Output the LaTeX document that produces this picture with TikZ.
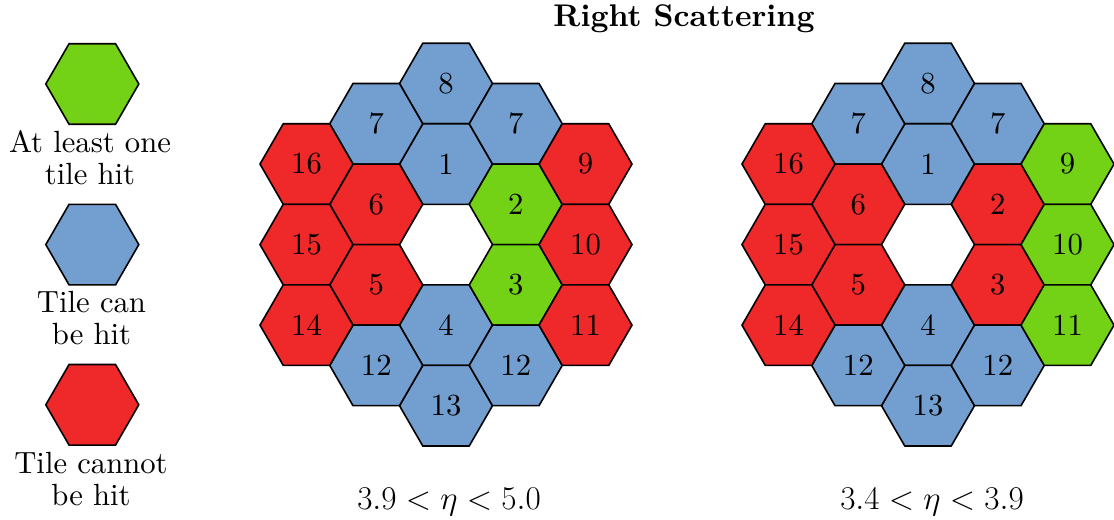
\documentclass[tikz,border=0pt]{standalone}
\usepackage{fontspec}
\setmainfont{lmroman10-regular.otf}[BoldFont=lmroman10-bold.otf]
\usetikzlibrary{shapes.geometric}
\definecolor{tgreen}{HTML}{73D216}
\definecolor{tblue}{HTML}{729FCF}
\definecolor{tred}{HTML}{EF2929}
\begin{document}
\begin{tikzpicture}[x=0.75pt,y=-0.75pt,
  bigfont/.style={font=\fontsize{23}{23.3}\selectfont},
  hexa/.style={regular polygon, regular polygon sides=6, minimum size=69.75pt,
    inner sep=0pt, outer sep=0pt, draw=black, line width=1.2pt, bigfont},
  txt/.style={bigfont, inner sep=0pt, align=center}]
\useasboundingbox (0,0) rectangle (1114,519);

% left cluster
\foreach \nm/\i/\j/\c/\lab in {
  8/0/-4/tblue/8, 1/0/-2/tblue/1, 4/0/2/tblue/4, 13/0/4/tblue/13,
  7l/-1/-3/tblue/7, 6/-1/-1/tred/6, 5/-1/1/tred/5, 12l/-1/3/tblue/12,
  7r/1/-3/tblue/7, 2/1/-1/tgreen/2, 3/1/1/tgreen/3, 12r/1/3/tblue/12,
  16/-2/-2/tred/16, 15/-2/0/tred/15, 14/-2/2/tred/14,
  9/2/-2/tred/9, 10/2/0/tred/10, 11/2/2/tred/11}
  \node[hexa, fill=\c] (L\nm) at ({446+\i*69.75},{244.6+\j*40.27}) {\lab};

% right cluster
\foreach \nm/\i/\j/\c/\lab in {
  8/0/-4/tblue/8, 1/0/-2/tblue/1, 4/0/2/tblue/4, 13/0/4/tblue/13,
  7l/-1/-3/tblue/7, 6/-1/-1/tred/6, 5/-1/1/tred/5, 12l/-1/3/tblue/12,
  7r/1/-3/tblue/7, 2/1/-1/tred/2, 3/1/1/tred/3, 12r/1/3/tblue/12,
  16/-2/-2/tred/16, 15/-2/0/tred/15, 14/-2/2/tred/14,
  9/2/-2/tgreen/9, 10/2/0/tgreen/10, 11/2/2/tgreen/11}
  \node[hexa, fill=\c] (R\nm) at ({928+\i*69.75},{244.6+\j*40.27}) {\lab};

% legend
\node[hexa, fill=tgreen] (legG) at (92.3,84) {};
\node[hexa, fill=tblue] (legB) at (92.3,244.6) {};
\node[hexa, fill=tred] (legR) at (92.3,404.8) {};
\node[txt, anchor=base] (legGt) at (90,184) {At least one\\tile hit};
\node[txt, anchor=base] (legBt) at (91.5,344) {Tile can\\be hit};
\node[txt, anchor=base] (legRt) at (91,505) {Tile cannot\\be hit};

% title and labels
\node[txt, font=\fontsize{23.5}{23.5}\selectfont\bfseries, anchor=base] (title) at (684,26) {Right Scattering};
\node[txt, font=\fontsize{24}{24}\selectfont, anchor=base] (etaL) at (449,509) {$3.9 < \eta < 5.0$};
\node[txt, font=\fontsize{24}{24}\selectfont, anchor=base] (etaR) at (932,509) {$3.4 < \eta < 3.9$};
\end{tikzpicture}
\end{document}
